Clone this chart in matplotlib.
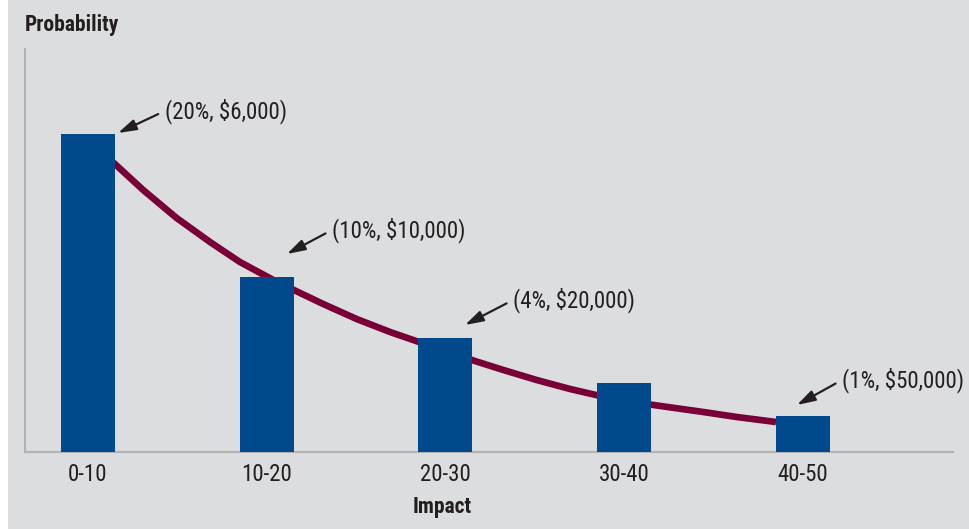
import matplotlib
matplotlib.use('Agg')
import matplotlib.pyplot as plt
from matplotlib.patches import Rectangle

# Datos (unidades relativas de altura)
categorias = ['0-10', '10-20', '20-30', '30-40', '40-50']
alturas = [31.8, 17.5, 11.4, 6.9, 3.6]

# Curva de tendencia
curva_x = [0.10, 0.151, 0.309, 0.496, 0.683, 0.850, 1.037, 1.152, 1.316, 1.503,
           1.690, 1.852, 2.156, 2.324, 2.510, 2.697, 2.842, 3.144, 3.442, 3.629,
           3.849]
curva_y = [29.6, 28.8, 26.2, 23.4, 21.0, 19.0, 17.2, 16.2, 14.8, 13.3,
           12.0, 11.0, 9.15, 8.2, 7.2, 6.3, 5.7, 4.75, 4.0, 3.5,
           3.0]

# Etiquetas de las flechas
etiquetas = ['(20%, $6,000)', '(10%, $10,000)', '(4%, $20,000)', '(1%, $50,000)']
punta_x = [0.168, 1.113, 2.109, 3.966]
punta_y = [31.9, 19.8, 12.7, 4.7]
texto_x = [0.43, 1.365, 2.378, 4.218]
texto_y = [34.1, 22.2, 15.2, 7.2]

FONDO = '#dcdddf'
AZUL = '#00498d'
GRANATE = '#780037'
TEXTO = '#231f20'
plt.rcParams['font.family'] = ['Roboto Condensed', 'DejaVu Sans']
plt.rcParams['font.stretch'] = 'condensed'

fig = plt.figure(figsize=(9.69, 5.29), dpi=100)
fig.patch.set_facecolor(FONDO)
fig.patches.append(Rectangle((0, 0), 8 / 969, 1, transform=fig.transFigure,
                             facecolor='white', edgecolor='none', zorder=0))

ax = fig.add_axes([25 / 969, 77 / 529, 928 / 969, 403 / 529])
ax.set_facecolor(FONDO)

ax.plot(curva_x, curva_y, color=GRANATE, linewidth=4.8, solid_capstyle='butt',
        solid_joinstyle='round', zorder=2)
ax.bar(range(len(categorias)), alturas, width=0.302, color=AZUL, zorder=3)

for txt, px, py, tx, ty in zip(etiquetas, punta_x, punta_y, texto_x, texto_y):
    ax.annotate(txt, xy=(px, py), xytext=(tx, ty), ha='left', va='center',
                fontsize=16.5, color=TEXTO,
                arrowprops=dict(arrowstyle='-|>,head_length=1.1,head_width=0.33',
                                mutation_scale=10, color=TEXTO, lw=1.6,
                                shrinkA=3, shrinkB=0, relpos=(0, 0.5)), zorder=4)

ax.set_xlim(-0.352, 4.839)
ax.set_ylim(0, 40.3)
ax.set_xticks(range(len(categorias)))
ax.set_xticklabels(categorias, fontsize=16.5, color=TEXTO)
ax.set_yticks([])
ax.tick_params(axis='x', length=0, pad=8)

for s in ['top', 'right']:
    ax.spines[s].set_visible(False)
for s in ['left', 'bottom']:
    ax.spines[s].set_color('#b2b2b2')
    ax.spines[s].set_linewidth(1.5)

fig.text(25 / 969, 1 - 25 / 529, 'Probability', fontsize=15.5, fontweight='bold',
         color=TEXTO, ha='left', va='center')
fig.text(442 / 969, 1 - 507 / 529, 'Impact', fontsize=15.5, fontweight='bold',
         color=TEXTO, ha='center', va='center')

fig.savefig('out.png', dpi=100, facecolor=fig.get_facecolor())
